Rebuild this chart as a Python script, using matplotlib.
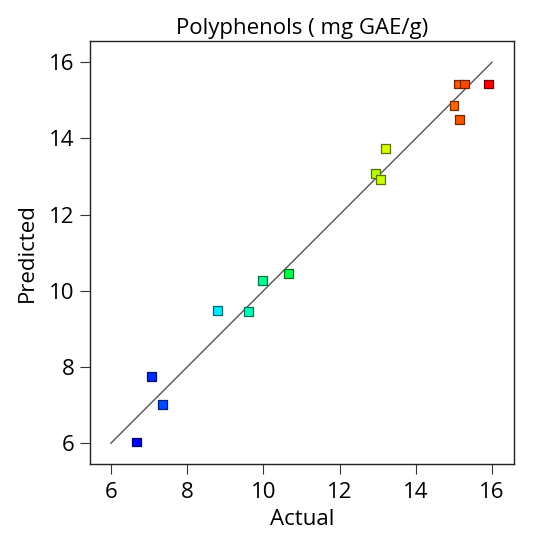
import numpy as np
import matplotlib
matplotlib.use("Agg")
import matplotlib.pyplot as plt
from matplotlib.colors import hsv_to_rgb

actual = [6.68, 7.07, 7.36, 8.80, 9.61, 9.98, 10.66, 12.94, 13.07, 13.20,
          15.00, 15.14, 15.11, 15.27, 15.90]
predicted = [6.03, 7.76, 7.02, 9.49, 9.46, 10.28, 10.46, 13.07, 12.92, 13.73,
             14.86, 14.50, 15.43, 15.43, 15.43]
ticks = [6, 8, 10, 12, 14, 16]
title = "Polyphenols ( mg GAE/g)"
xlabel = "Actual"
ylabel = "Predicted"

plt.rcParams['font.family'] = ['Open Sans', 'DejaVu Sans']

fig = plt.figure(figsize=(5.35, 5.5), dpi=100)
ax = fig.add_axes([0.168, 0.156, 0.793, 0.769])

a = np.array(actual)
t = (a - a.min()) / (a.max() - a.min())
hsv = np.stack([(2/3) * (1 - t), np.ones_like(t), np.ones_like(t)], axis=1)
fills = hsv_to_rgb(hsv)
edges = fills * 0.45

ax.plot([6, 16], [6, 16], color='#555555', lw=1.0, zorder=1)
ax.scatter(actual, predicted, marker='s', s=40, c=fills, edgecolors=edges,
           linewidths=0.9, zorder=2)

ax.set_xlim(5.45, 16.58)
ax.set_ylim(5.45, 16.55)
ax.set_xticks(ticks)
ax.set_yticks(ticks)
ax.set_xticklabels([str(v) for v in ticks])
ax.set_yticklabels([str(v) for v in ticks])
ax.tick_params(direction='out', length=7, width=0.8, labelsize=16, pad=4, color='#333333')
ax.tick_params(axis='x', pad=6)
for s in ax.spines.values():
    s.set_linewidth(1.0)
    s.set_color('#222222')
ax.set_xlabel(xlabel, fontsize=16, labelpad=4)
ax.set_ylabel(ylabel, fontsize=16, labelpad=8)
ax.set_title(title, fontsize=16, pad=5)

fig.savefig("out.png", dpi=100)
